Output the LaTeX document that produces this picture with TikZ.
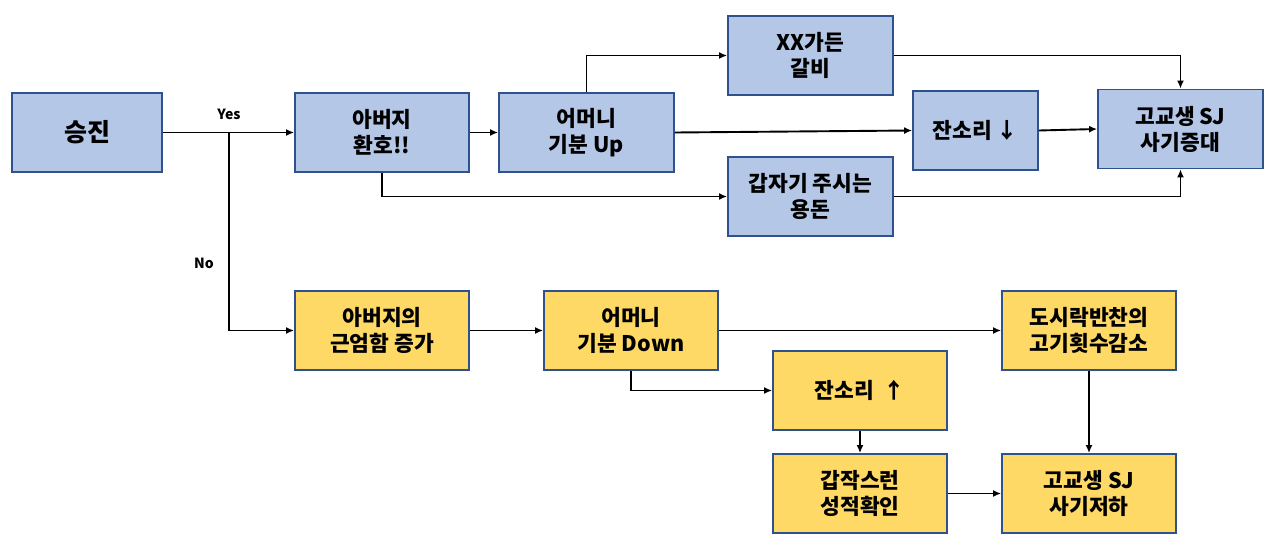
\documentclass[tikz,border=0pt]{standalone}
\usepackage{fontspec}
\setmainfont{Noto Sans CJK KR}
\usetikzlibrary{arrows.meta}
\definecolor{bfill}{HTML}{B4C7E7}
\definecolor{yfill}{HTML}{FFD966}
\definecolor{bline}{HTML}{2F528F}
\tikzset{
  box/.style={draw=bline,line width=1.8pt,minimum height=79pt,align=center,inner sep=0pt,
    font=\fontsize{21.5}{27}\selectfont\bfseries},
  bbox/.style={box,fill=bfill},
  ybox/.style={box,fill=yfill},
  conn/.style={line width=1.9pt,-{Latex[length=8pt,width=7pt]}},
  plain/.style={line width=1.9pt},
  lbl/.style={font=\fontsize{14}{16}\selectfont\bfseries,inner sep=0pt}
}
\begin{document}
\begin{tikzpicture}[x=1pt,y=-1pt]
\useasboundingbox (0,0) rectangle (1280,546);
\node[bbox,minimum width=150pt,font=\fontsize{25}{30}\selectfont\bfseries] (s) at (87,132.5) {승진};
\node[bbox,minimum width=174pt] (a1) at (382,132.5) {아버지\\[-1pt]환호!!};
\node[bbox,minimum width=175pt] (m1) at (586.5,132.5) {어머니\\[-1pt]기분 Up};
\node[bbox,minimum width=165pt] (xx) at (810.5,55.5) {XX가든\\[-1pt]갈비};
\node[bbox,minimum width=125pt] (j1) at (975.5,130.5) {잔소리 ↓};
\node[bbox,minimum width=165pt] (g1) at (1180.5,129) {고교생 SJ\\[-1pt]사기증대};
\node[bbox,minimum width=165pt] (yd) at (810.5,196.5) {갑자기 주시는\\[-1pt]용돈};
\node[ybox,minimum width=174pt] (a2) at (382,330.5) {아버지의\\[-1pt]근엄함 증가};
\node[ybox,minimum width=174pt] (m2) at (631,330.5) {어머니\\[-1pt]기분 Down};
\node[ybox,minimum width=174pt] (d) at (1089,330.5) {도시락반찬의\\[-1pt]고기횟수감소};
\node[ybox,minimum width=174pt] (j2) at (860,390.5) {잔소리 ~↑};
\node[ybox,minimum width=174pt] (c) at (860,493.5) {갑작스런\\[-1pt]성적확인};
\node[ybox,minimum width=174pt] (g2) at (1089,493.5) {고교생 SJ\\[-1pt]사기저하};
\coordinate (br) at (229,132.5);
\node[lbl] (yes) at (229,114) {Yes};
\node[lbl] (no) at (204,263) {No};
\draw[conn] (s.east) -- (a1.west);
\draw[plain] (br) -- (229,300);
\draw[conn] (br) |- (a2.west);
\draw[conn] (a1.east) -- (m1.west);
\draw[conn] (m1.north) |- (xx.west);
\draw[conn] (m1.east) -- (j1.west);
\draw[conn] (a1.south) |- (yd.west);
\draw[conn] (xx.east) -| (g1.north);
\draw[conn] (yd.east) -| (g1.south);
\draw[conn] (j1.east) -- (g1.west);
\draw[conn] (a2.east) -- (m2.west);
\draw[conn] (m2.east) -- (d.west);
\draw[conn] (m2.south) |- (j2.west);
\draw[conn] (j2.south) -- (c.north);
\draw[conn] (d.south) -- (g2.north);
\draw[conn] (c.east) -- (g2.west);
\end{tikzpicture}
\end{document}
